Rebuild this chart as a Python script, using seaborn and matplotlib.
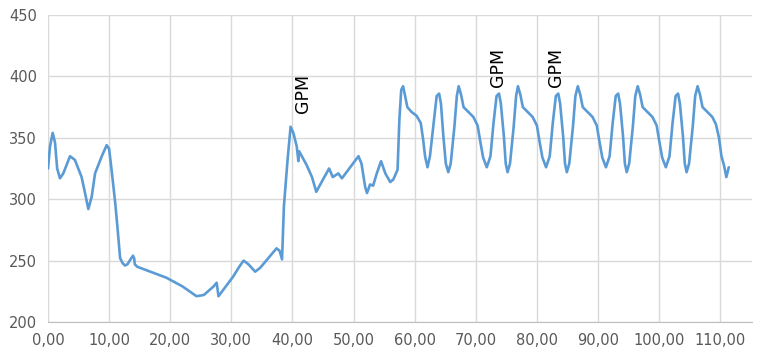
import matplotlib
matplotlib.use("Agg")
import matplotlib.pyplot as plt
import seaborn as sns
import pandas as pd
from matplotlib.ticker import FuncFormatter, MultipleLocator

# values
time_vals = [0.0, 0.33, 0.77, 1.15, 1.5, 1.96, 2.5, 3.6, 4.4, 5.5, 6.06, 6.6, 7.15, 7.7, 8.8,
             9.6, 10.0, 10.4, 11.0, 11.35, 11.8, 12.2, 12.6, 13.0, 13.5, 13.9, 14.1, 14.2, 14.6,
             18.3, 19.4, 22.0, 24.3, 25.5, 27.1, 27.6, 27.9, 30.3, 31.3, 32.0, 32.8, 33.9,
             34.7, 37.4, 37.9, 38.3, 38.6, 39.2, 39.7, 40.15, 40.7, 40.97, 41.1, 42.3, 43.2,
             43.9, 45.1, 46.0, 46.6, 47.5, 48.1, 50.8, 51.3, 51.9, 52.2, 52.7, 53.2, 53.8,
             54.5, 55.2, 56.0, 56.5, 57.2, 57.5, 57.8, 58.1, 58.4, 58.8, 59.5, 60.3, 61.0,
             61.4, 61.7, 62.1, 62.5, 63.1, 63.6, 64.0, 64.3, 64.7, 65.1, 65.5, 65.9, 66.5,
             66.9, 67.2, 67.6, 68.0, 68.8, 69.6, 70.3, 70.7, 71.2, 71.8, 72.4, 72.9, 73.4,
             73.8, 74.1, 74.6, 74.9, 75.2, 75.6, 76.2, 76.6, 76.9,
             77.3, 77.7, 78.5, 79.3, 80.0, 80.4, 80.9, 81.5, 82.1, 82.6, 83.1, 83.5, 83.8,
             84.3, 84.6, 84.9, 85.3, 85.9, 86.3, 86.7,
             87.1, 87.5, 88.3, 89.1, 89.8, 90.2, 90.7, 91.3, 91.9, 92.4, 92.9, 93.3, 93.6,
             94.1, 94.4, 94.7, 95.1, 95.7, 96.1, 96.5,
             96.9, 97.3, 98.1, 98.9, 99.6, 100.0, 100.5, 101.1, 101.7, 102.2, 102.7, 103.1,
             103.4, 103.9, 104.2, 104.5, 104.9, 105.5, 105.9, 106.3,
             106.7, 107.1, 107.9, 108.7, 109.3, 109.8, 110.2, 110.6, 111.0, 111.2, 111.4]
power_vals = [325, 343, 354, 346, 325, 317, 321, 335, 332, 318, 305, 292, 302, 321, 335,
              344, 341, 324, 297, 278, 252, 248, 246, 247, 251, 254, 252, 247, 245,
              238, 236, 229, 221, 222, 229, 232, 221, 237, 245, 250, 247, 241,
              244, 260, 258, 251, 294, 332, 359, 354, 343, 331, 339, 328, 318,
              306, 317, 325, 318, 321, 317, 335, 329, 310, 305, 312, 311, 321,
              331, 321, 314, 316, 324, 365, 389, 392, 385, 375, 371, 368, 362,
              348, 335, 326, 335, 362, 384, 386, 378, 351, 329, 322, 329, 359,
              384, 392, 385, 375, 371, 367, 360, 348, 334, 326, 335, 362, 384,
              386, 378, 351, 329, 322, 329, 359, 384, 392,
              385, 375, 371, 367, 360, 348, 334, 326, 335, 362, 384, 386, 378,
              351, 329, 322, 329, 359, 384, 392,
              385, 375, 371, 367, 360, 348, 334, 326, 335, 362, 384, 386, 378,
              351, 329, 322, 329, 359, 384, 392,
              385, 375, 371, 367, 360, 348, 334, 326, 335, 362, 384, 386,
              378, 351, 329, 322, 329, 359, 384, 392,
              385, 375, 371, 367, 361, 350, 335, 328, 318, 322, 326]

label_x = [41.7, 73.7, 83.2]
label_y = [370, 391, 391]
label_text = ["GPM", "GPM", "GPM"]

df = pd.DataFrame({"t": time_vals, "p": power_vals})

sns.set_style("white")
fig = plt.figure(figsize=(7.83, 3.61), dpi=100)
ax = fig.add_axes([48 / 783, 1 - 322 / 361, (752 - 48) / 783, (322 - 15) / 361])

sns.lineplot(data=df, x="t", y="p", ax=ax, sort=False, estimator=None,
             color="#5B9BD5", linewidth=1.9)

for xx, yy, tt in zip(label_x, label_y, label_text):
    ax.text(xx, yy, tt, rotation=90, ha="center", va="bottom", fontsize=12.5, color="black")

ax.set_xlim(0, 115.2)
ax.set_ylim(200, 450)
ax.xaxis.set_major_locator(MultipleLocator(10))
ax.yaxis.set_major_locator(MultipleLocator(50))
ax.xaxis.set_major_formatter(FuncFormatter(lambda v, p: f"{v:.2f}".replace(".", ",")))
ax.grid(True, color="#D9D9D9", linewidth=1)
ax.set_axisbelow(True)
for s in ["top", "right", "left"]:
    ax.spines[s].set_visible(False)
ax.spines["bottom"].set_color("#BFBFBF")
ax.tick_params(axis="both", length=0, labelsize=10.5, colors="#595959", pad=8)
ax.set_xlabel("")
ax.set_ylabel("")

fig.savefig("out.png", dpi=100)
